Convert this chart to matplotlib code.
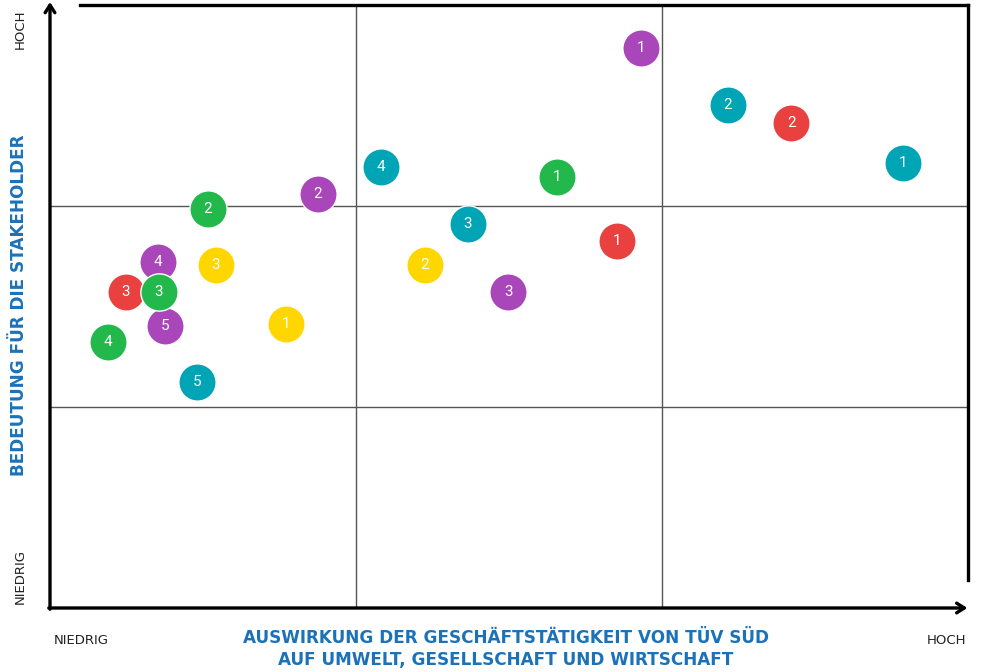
import numpy as np
import matplotlib.pyplot as plt

plt.rcParams['font.family'] = ['Roboto', 'DejaVu Sans']

# bubble data: (x, y) in grid units 0..3, label number
purple_x = [1.931, 0.876, 1.497, 0.353, 0.376]
purple_y = [2.786, 2.060, 1.572, 1.721, 1.403]
purple_n = ['1', '2', '3', '4', '5']

teal_x = [2.788, 2.216, 1.366, 1.082, 0.480]
teal_y = [2.214, 2.502, 1.910, 2.194, 1.124]
teal_n = ['1', '2', '3', '4', '5']

red_x = [1.853, 2.422, 0.248]
red_y = [1.826, 2.413, 1.572]
red_n = ['1', '2', '3']

green_x = [1.657, 0.516, 0.356, 0.190]
green_y = [2.144, 1.985, 1.572, 1.323]
green_n = ['1', '2', '3', '4']

yellow_x = [0.771, 1.225, 0.542]
yellow_y = [1.413, 1.706, 1.706]
yellow_n = ['1', '2', '3']

groups = [
    (red_x, red_y, red_n, '#E94040'),
    (purple_x, purple_y, purple_n, '#A946B9'),
    (yellow_x, yellow_y, yellow_n, '#FFD600'),
    (teal_x, teal_y, teal_n, '#00A5B5'),
    (green_x, green_y, green_n, '#23B84C'),
]

blue = '#1B72B8'
lab = dict(family='DejaVu Sans', fontsize=9.5, color='#222222', ha='center', va='center')
big = dict(family='DejaVu Sans', fontsize=12.2, fontweight='bold', color=blue, ha='center', va='center')

fig = plt.figure(figsize=(9.81, 6.72), dpi=100)
ax = fig.add_axes([50/981, 64/672, 918/981, 603/672])
ax.set_xlim(0, 3)
ax.set_ylim(0, 3)
ax.axis('off')

# inner grid
for v in [1, 2]:
    ax.plot([v, v], [0, 3], color='#555555', lw=1.0, zorder=1)
    ax.plot([0, 3], [v, v], color='#555555', lw=1.0, zorder=1)

# frame
ax.plot([0.098, 3], [3, 3], color='black', lw=2.4, solid_capstyle='projecting', clip_on=False, zorder=2)
ax.plot([3, 3], [0.139, 3], color='black', lw=2.4, solid_capstyle='projecting', clip_on=False, zorder=2)
arrow = dict(arrowstyle='->,head_length=0.55,head_width=0.35', lw=2.4, color='black', shrinkA=0, shrinkB=0)
ax.annotate('', xy=(0, 3.015), xytext=(0, -0.006), arrowprops=arrow, annotation_clip=False)
ax.annotate('', xy=(2.998, 0), xytext=(-0.004, 0), arrowprops=arrow, annotation_clip=False)

# bubbles
for xs, ys, ns, c in groups:
    ax.scatter(xs, ys, s=720, color=c, edgecolors='white', linewidths=1.0, zorder=3, clip_on=False)
    for x, y, n in zip(xs, ys, ns):
        ax.text(x, y, n, color='white', fontsize=11, ha='center', va='center', zorder=4)

# axis texts
fig.text(20/981, 1 - 29/672, 'HOCH', rotation=90, **lab)
fig.text(20/981, 1 - 577/672, 'NIEDRIG', rotation=90, **lab)
fig.text(81/981, 1 - 640/672, 'NIEDRIG', **lab)
fig.text(946/981, 1 - 641/672, 'HOCH', **lab)

fig.text(19/981, 1 - 305/672, 'BEDEUTUNG FÜR DIE STAKEHOLDER', rotation=90, **big)
fig.text(506/981, 1 - 638/672, 'AUSWIRKUNG DER GESCHÄFTSTÄTIGKEIT VON TÜV SÜD', **big)
fig.text(506/981, 1 - 660/672, 'AUF UMWELT, GESELLSCHAFT UND WIRTSCHAFT', **big)

fig.savefig('out.png', dpi=100)
